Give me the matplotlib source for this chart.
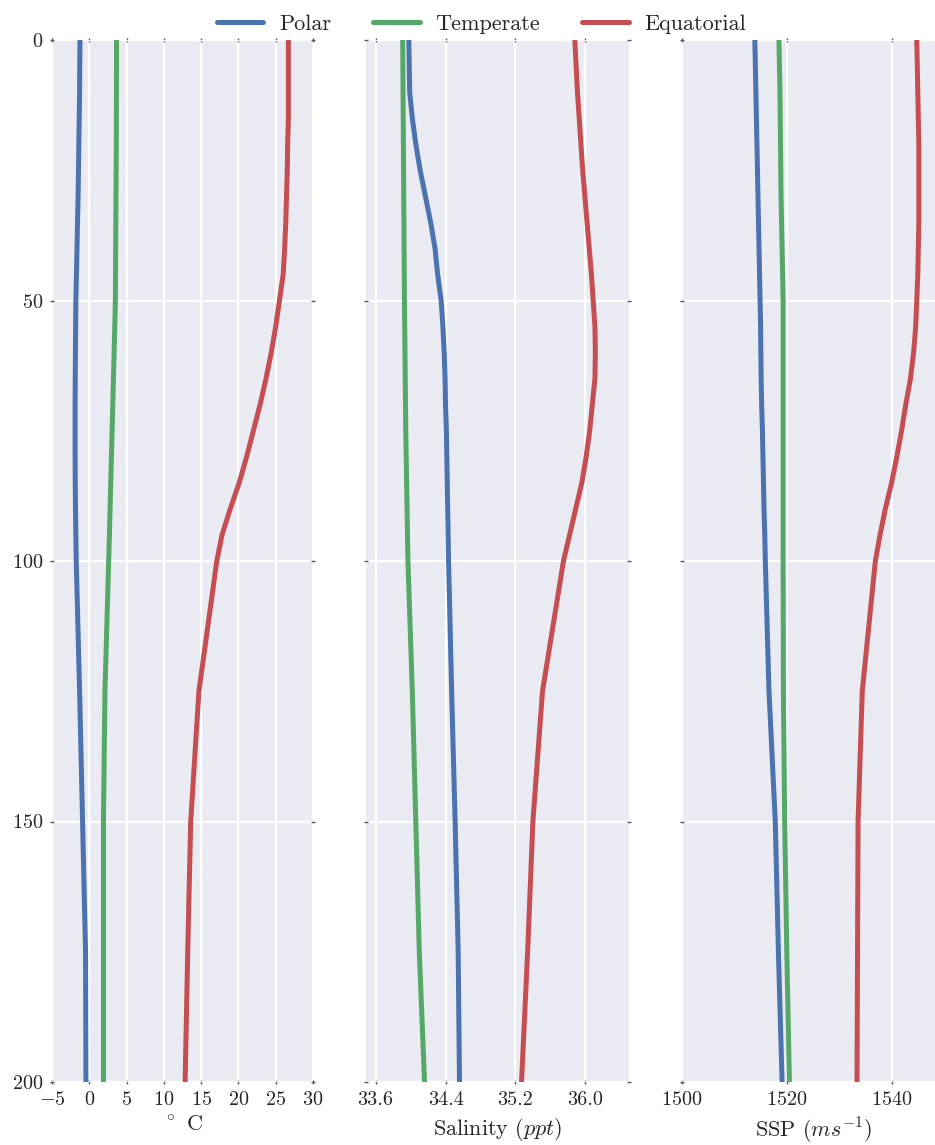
import matplotlib
matplotlib.use('Agg')
import matplotlib.pyplot as plt

# standard depths (m)
depth = [0, 5, 10, 15, 20, 25, 30, 35, 40, 45, 50, 55, 60, 65, 70, 75, 80, 85, 90, 95, 100,
         125, 150, 175, 200]

labels = ['Polar', 'Temperate', 'Equatorial']

# temperature (deg C)
temp_polar = [-1.25, -1.28, -1.3, -1.35, -1.4, -1.45, -1.5, -1.58, -1.65, -1.72, -1.8, -1.83, -1.86,
              -1.88, -1.9, -1.9, -1.9, -1.88, -1.85, -1.8, -1.75, -1.3, -0.9, -0.5, -0.45]
temp_temperate = [3.65, 3.65, 3.64, 3.63, 3.62, 3.6, 3.58, 3.56, 3.54, 3.52, 3.5, 3.42, 3.33, 3.24,
                  3.15, 3.06, 2.97, 2.88, 2.79, 2.7, 2.6, 2.1, 1.9, 1.9, 1.9]
temp_equatorial = [26.7, 26.7, 26.7, 26.7, 26.6, 26.55, 26.45, 26.35, 26.2, 26.0, 25.5, 25.0, 24.4,
                   23.7, 22.9, 22.0, 21.1, 20.1, 18.9, 17.8, 17.1, 14.7, 13.6, 13.2, 12.85]

# salinity (ppt)
sal_polar = [33.98, 33.985, 33.99, 34.02, 34.06, 34.11, 34.17, 34.23, 34.28, 34.31, 34.35, 34.37,
             34.385, 34.395, 34.4, 34.41, 34.415, 34.42, 34.425, 34.43, 34.435, 34.47, 34.51,
             34.545, 34.56]
sal_temperate = [33.91, 33.912, 33.914, 33.916, 33.918, 33.92, 33.922, 33.924, 33.926, 33.928,
                 33.93, 33.933, 33.936, 33.939, 33.942, 33.945, 33.95, 33.955, 33.96, 33.965,
                 33.97, 34.02, 34.06, 34.1, 34.16]
sal_equatorial = [35.88, 35.895, 35.91, 35.93, 35.95, 35.97, 35.995, 36.02, 36.045, 36.07, 36.09,
                  36.11, 36.115, 36.11, 36.08, 36.05, 36.01, 35.96, 35.89, 35.82, 35.75, 35.51,
                  35.4, 35.34, 35.27]

# sound speed (m/s)
ssp_polar = [1513.9, 1514.0, 1514.1, 1514.2, 1514.3, 1514.4, 1514.5, 1514.6, 1514.7, 1514.8,
             1514.9, 1515.0, 1515.05, 1515.1, 1515.2, 1515.35, 1515.45, 1515.55, 1515.65,
             1515.8, 1515.9, 1516.6, 1517.8, 1518.4, 1519.1]
ssp_temperate = [1518.5, 1518.6, 1518.7, 1518.75, 1518.8, 1518.85, 1518.9, 1519.0, 1519.1,
                 1519.2, 1519.3, 1519.3, 1519.3, 1519.3, 1519.3, 1519.3, 1519.3, 1519.3, 1519.3,
                 1519.3, 1519.3, 1519.35, 1519.6, 1520.0, 1520.5]
ssp_equatorial = [1544.8, 1544.9, 1545.0, 1545.1, 1545.2, 1545.2, 1545.2, 1545.2, 1545.1, 1545.0,
                  1544.8, 1544.6, 1544.2, 1543.6, 1542.7, 1541.9, 1541.0, 1540.0, 1538.8, 1537.8,
                  1536.9, 1534.4, 1533.6, 1533.5, 1533.4]

colors = ['#4C72B0', '#55A868', '#C44E52']

plt.rcParams['font.family'] = ['cmr10', 'DejaVu Serif']
plt.rcParams['mathtext.fontset'] = 'cm'
plt.rcParams['axes.formatter.use_mathtext'] = True
plt.rcParams['axes.unicode_minus'] = True
plt.rcParams['text.color'] = '#262626'
plt.rcParams['xtick.color'] = '#262626'
plt.rcParams['ytick.color'] = '#262626'
plt.rcParams['axes.labelcolor'] = '#262626'
plt.rcParams['lines.solid_capstyle'] = 'round'

fig = plt.figure(figsize=(9.35, 11.45), dpi=100)
W, H = 935.0, 1145.0
bottom = (H - 1082) / H
height = 1042 / H
ax1 = fig.add_axes([52 / W, bottom, 261 / W, height])
ax2 = fig.add_axes([366 / W, bottom, 263 / W, height], sharey=ax1)
ax3 = fig.add_axes([682 / W, bottom, 262 / W, height], sharey=ax1)

panels = [
    (ax1, [temp_polar, temp_temperate, temp_equatorial], r'$^\circ$ C'),
    (ax2, [sal_polar, sal_temperate, sal_equatorial], r'Salinity $(ppt)$'),
    (ax3, [ssp_polar, ssp_temperate, ssp_equatorial], r'SSP $(ms^{-1})$'),
]

for ax, series, xlabel in panels:
    ax.set_facecolor('#EAEAF2')
    for s, c, lab in zip(series, colors, labels):
        ax.plot(s, depth, color=c, lw=3.6, label=lab)
    for sp in ax.spines.values():
        sp.set_visible(False)
    ax.grid(True, color='white', lw=1.7)
    ax.set_axisbelow(True)
    ax.tick_params(axis='both', which='both', direction='inout', length=3, width=1,
                   top=True, right=True, labelsize=14.5, pad=5, color='#555555')
    ax.set_xlabel(xlabel, fontsize=16, labelpad=5)

ax1.set_ylim(200, 0)
ax1.set_yticks([0, 50, 100, 150, 200])

ax1.set_xlim(-5, 30)
ax1.set_xticks(range(-5, 31, 5))

ax2.set_xlim(33.49, 36.5)
ax2.set_xticks([33.6, 34.4, 35.2, 36.0])
ax2.set_xticklabels(['33.6', '34.4', '35.2', '36.0'])

ax3.set_xlim(1500, 1550)
ax3.set_xticks([1500, 1520, 1540])

for ax in (ax2, ax3):
    ax.tick_params(labelleft=False)

handles, labs = ax1.get_legend_handles_labels()
fig.legend(handles, labs, loc='upper center', bbox_to_anchor=(481.5 / W, 1.005), ncol=3,
           frameon=False, fontsize=16, handlelength=2.1, handletextpad=0.7, columnspacing=1.9)

fig.savefig('out.png', dpi=100)
